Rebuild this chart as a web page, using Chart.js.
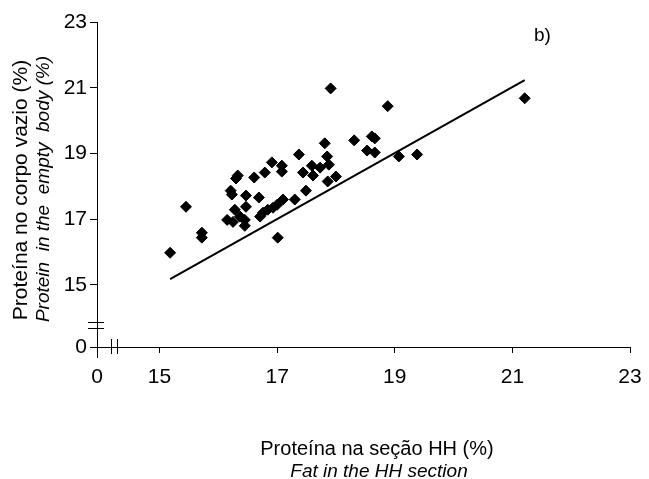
<!DOCTYPE html>
<html>
<head>
<meta charset="utf-8">
<script src="https://cdn.jsdelivr.net/npm/chart.js@4"></script>
<style>
  body { margin: 0; background: #fff; }
</style>
</head>
<body>
<canvas id="chart" width="649" height="479"></canvas>
<script>
// 軸の目盛り（0 は軸の切れ目の手前）
const xTickLabels = [0, 15, 17, 19, 21, 23];
const yTickLabels = [0, 15, 17, 19, 21, 23];

// 散布図のデータ（HH セクション vs 空体）
const sectionHH = [15.18, 15.45, 15.72, 15.72, 16.15, 16.21, 16.23, 16.33, 16.30, 16.61,
  16.47, 16.28, 16.47, 16.37, 16.45, 16.25, 16.45, 16.69, 16.79, 16.91,
  17.08, 17.08, 16.71, 16.76, 16.93, 17.00, 17.10, 17.01, 17.37, 17.30,
  17.44, 17.49, 17.59, 17.61, 17.73, 17.81, 17.91, 17.85, 17.88, 17.86,
  18.00, 18.31, 18.61, 18.66, 18.53, 18.66, 18.88, 19.07, 19.38, 21.21, 16.84];
const emptyBody = [15.98, 17.38, 16.59, 16.44, 16.98, 17.87, 17.75, 18.33, 18.24, 18.27,
  17.72, 17.29, 17.38, 17.08, 16.98, 16.92, 16.80, 17.66, 18.42, 18.73,
  18.63, 18.45, 17.08, 17.20, 17.35, 17.44, 17.60, 16.44, 18.97, 17.60,
  18.42, 17.87, 18.63, 18.33, 18.57, 19.31, 20.98, 18.91, 18.66, 18.15,
  18.30, 19.40, 19.52, 19.46, 19.09, 19.03, 20.44, 18.91, 18.97, 20.68, 17.29];

// 回帰直線の両端
const lineX = [15.18, 21.21];
const lineY = [15.18, 21.23];

// 切れ目の位置（0 を置く値）
const xZeroAt = 13.937;
const yZeroAt = 13.114;

const fontFamily = '"Liberation Sans", Arial, sans-serif';

// タイトルや切れ目を描くプラグイン
const extras = {
  id: 'extras',
  afterDraw(chart) {
    const ctx = chart.ctx;
    const xs = chart.scales.x;
    const ys = chart.scales.y;
    const x0 = xs.getPixelForValue(xZeroAt);
    const y0 = ys.getPixelForValue(yZeroAt);
    ctx.save();
    ctx.strokeStyle = '#000';
    ctx.lineWidth = 1;

    // y軸を少し下へ伸ばす
    ctx.beginPath();
    ctx.moveTo(x0 + 0.5, y0);
    ctx.lineTo(x0 + 0.5, y0 + 11);
    ctx.stroke();

    // x軸の切れ目
    [111, 117].forEach(px => {
      ctx.beginPath();
      ctx.moveTo(px + 0.5, y0 - 8);
      ctx.lineTo(px + 0.5, y0 + 7);
      ctx.stroke();
    });
    // y軸の切れ目
    [322, 328].forEach(py => {
      ctx.beginPath();
      ctx.moveTo(x0 - 9, py + 0.5);
      ctx.lineTo(x0 + 7, py + 0.5);
      ctx.stroke();
    });

    ctx.fillStyle = '#000';
    ctx.textBaseline = 'alphabetic';

    // x軸タイトル
    ctx.textAlign = 'center';
    ctx.font = '20px ' + fontFamily;
    ctx.fillText('Proteína na seção HH (%)', 377, 455);
    ctx.font = 'italic 19px ' + fontFamily;
    ctx.fillText('Fat in the HH section', 379, 477);

    // y軸タイトル
    ctx.save();
    ctx.translate(27, 190);
    ctx.rotate(-Math.PI / 2);
    ctx.font = '21px ' + fontFamily;
    ctx.fillText('Proteína no corpo vazio (%)', 0, 0);
    ctx.restore();
    ctx.save();
    ctx.translate(49, 189);
    ctx.rotate(-Math.PI / 2);
    ctx.font = 'italic 19px ' + fontFamily;
    ctx.fillText('Protein  in the  empty  body (%)', 0, 0);
    ctx.restore();

    // パネル記号
    ctx.textAlign = 'left';
    ctx.font = '19px ' + fontFamily;
    ctx.fillText('b)', 534, 41);
    ctx.restore();
  }
};

document.addEventListener('DOMContentLoaded', function() {
  const ctx = document.getElementById('chart').getContext('2d');

  new Chart(ctx, {
    type: 'scatter',
    data: {
      datasets: [
        {
          data: sectionHH.map((x, i) => ({ x: x, y: emptyBody[i] })),
          pointStyle: 'rectRot',
          pointRadius: 5.5,
          backgroundColor: '#000',
          borderColor: '#000',
          borderWidth: 1
        },
        {
          data: lineX.map((x, i) => ({ x: x, y: lineY[i] })),
          showLine: true,
          pointRadius: 0,
          borderColor: '#000',
          borderWidth: 2
        }
      ]
    },
    options: {
      responsive: false,
      animation: false,
      layout: { autoPadding: false, padding: { left: 0, top: 22, right: 19, bottom: 0 } },
      plugins: { legend: { display: false }, tooltip: { enabled: false } },
      scales: {
        x: {
          type: 'linear',
          min: xZeroAt,
          max: 23,
          afterBuildTicks: s => { s.ticks = xTickLabels.map(v => ({ value: v === 0 ? xZeroAt : v })); },
          afterFit: s => { s.height = 132; s.paddingLeft = 0; s.paddingRight = 0; },
          ticks: {
            callback: (v, i) => String(xTickLabels[i]),
            font: { family: fontFamily, size: 21 },
            color: '#000',
            padding: 12,
            maxRotation: 0,
            autoSkip: false
          },
          grid: { drawOnChartArea: false, drawTicks: true, tickLength: 6, color: '#000' },
          border: { display: true, color: '#000', width: 1 }
        },
        y: {
          type: 'linear',
          min: yZeroAt,
          max: 23,
          afterBuildTicks: s => { s.ticks = yTickLabels.map(v => ({ value: v === 0 ? yZeroAt : v })); },
          afterFit: s => { s.width = 97; s.paddingTop = 0; s.paddingBottom = 0; },
          ticks: {
            callback: (v, i) => String(yTickLabels[i]),
            font: { family: fontFamily, size: 21 },
            color: '#000',
            padding: 3,
            autoSkip: false
          },
          grid: { drawOnChartArea: false, drawTicks: true, tickLength: 7, color: '#000' },
          border: { display: true, color: '#000', width: 1 }
        }
      }
    },
    plugins: [extras]
  });
});
</script>
</body>
</html>
